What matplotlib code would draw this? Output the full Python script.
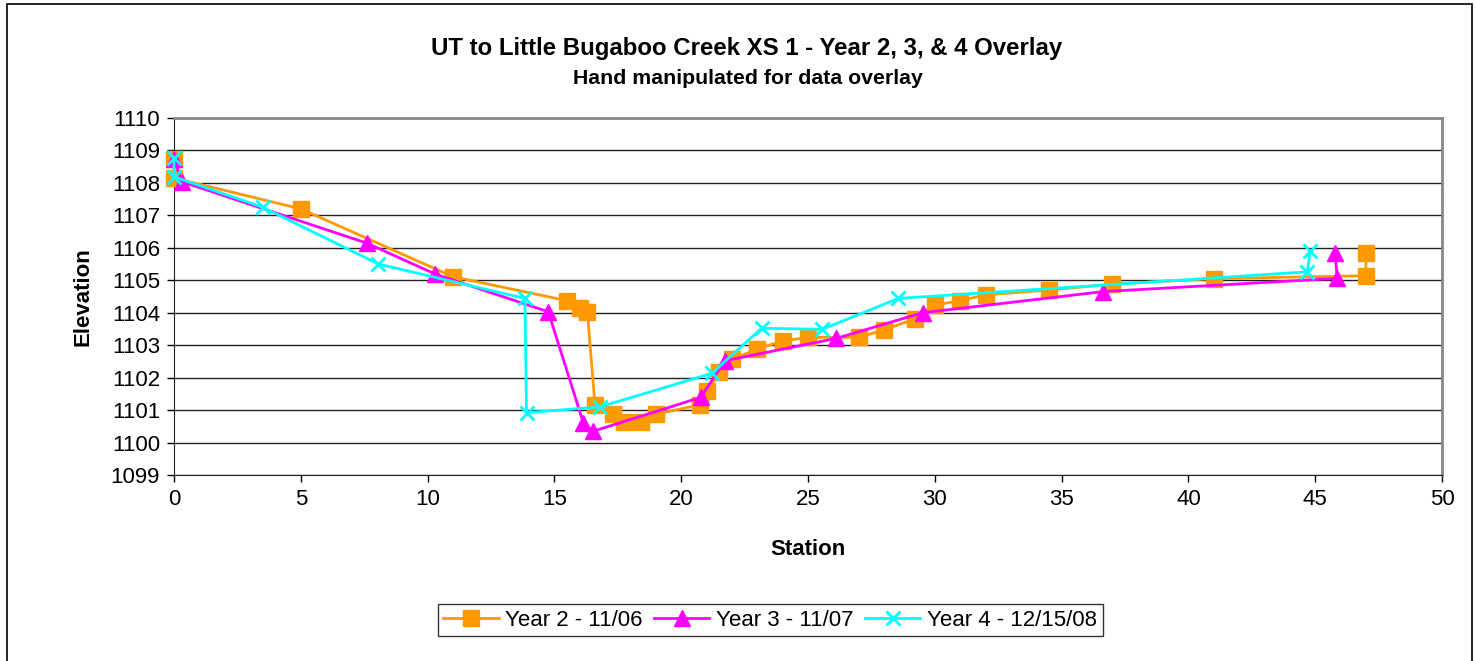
import matplotlib
matplotlib.use("Agg")
import matplotlib.pyplot as plt
from matplotlib.patches import Rectangle

plt.rcParams['font.family'] = ['Liberation Sans', 'DejaVu Sans']

# station / elevation
yr2_x = [0, 0, 5.0, 11.0, 15.5, 16.0, 16.3, 16.6, 17.3, 17.74, 18.4, 19.0, 20.74, 21.03,
         21.5, 22.0, 23.0, 24.0, 25.0, 27.0, 28.0, 29.2, 30.0, 31.0, 32.0, 34.5, 37.0,
         41.0, 47.0, 47.0]
yr2_y = [1108.75, 1108.15, 1107.2, 1105.11, 1104.37, 1104.14, 1104.03, 1101.16, 1100.88,
         1100.64, 1100.62, 1100.88, 1101.16, 1101.6, 1102.18, 1102.56, 1102.88, 1103.13,
         1103.24, 1103.24, 1103.47, 1103.81, 1104.24, 1104.37, 1104.55, 1104.7, 1104.88,
         1105.05, 1105.14, 1105.85]

yr3_x = [0, 0.3, 7.62, 10.3, 14.76, 16.14, 16.53, 20.77, 21.72, 26.12, 29.52, 36.63, 45.87, 45.78]
yr3_y = [1108.75, 1108.04, 1106.14, 1105.19, 1104.03, 1100.61, 1100.35, 1101.39, 1102.52,
         1103.21, 1104.0, 1104.65, 1105.06, 1105.83]

yr4_x = [0, 0, 3.5, 8.06, 13.84, 13.9, 16.8, 21.2, 23.17, 25.57, 28.56, 44.69, 44.8]
yr4_y = [1108.76, 1108.19, 1107.25, 1105.5, 1104.44, 1100.92, 1101.1, 1102.13, 1103.52,
         1103.49, 1104.44, 1105.26, 1105.9]

labels = ["Year 2 - 11/06", "Year 3 - 11/07", "Year 4 - 12/15/08"]
colors = ["#FF9900", "#FF00FF", "#00FFFF"]

W, H = 1476, 661
fig = plt.figure(figsize=(W / 100, H / 100), dpi=100)
ax = fig.add_axes([174 / W, 1 - 475 / H, (1442 - 174) / W, (475 - 118) / H])

ax.plot(yr2_x, yr2_y, color=colors[0], lw=2, marker='s', ms=11, label=labels[0],
        zorder=3, clip_on=False)
ax.plot(yr3_x, yr3_y, color=colors[1], lw=2, marker='^', ms=11, label=labels[1],
        zorder=4, clip_on=False)
ax.plot(yr4_x, yr4_y, color=colors[2], lw=2, marker='x', ms=10, mew=2, label=labels[2],
        zorder=5, clip_on=False)

ax.set_xlim(0, 50)
ax.set_ylim(1099, 1110)
ax.set_xticks(range(0, 51, 5))
ax.set_yticks(range(1099, 1111))
ax.yaxis.grid(True, color='#222222', lw=1.0)
ax.set_axisbelow(True)
ax.tick_params(labelsize=16, direction='out', length=5, width=1, colors='black', pad=5)

for side in ['top', 'right']:
    ax.spines[side].set_color('#888888')
    ax.spines[side].set_linewidth(2)
ax.spines['left'].set_color('#222222')
ax.spines['bottom'].set_color('#222222')

ax.set_xlabel("Station", fontsize=16, fontweight='bold')
ax.set_ylabel("Elevation", fontsize=16, fontweight='bold')
ax.xaxis.set_label_coords(0.5, (475 - 539) / (475 - 118))
ax.yaxis.set_label_coords((93 - 174) / (1442 - 174), 0.5)

fig.text(747 / W, 1 - 48 / H, "UT to Little Bugaboo Creek XS 1 - Year 2, 3, & 4 Overlay",
         ha='center', va='center', fontsize=17.3, fontweight='bold')
fig.text(748 / W, 1 - 78 / H, "Hand manipulated for data overlay",
         ha='center', va='center', fontsize=15.3, fontweight='bold')

leg = fig.legend(loc='center', bbox_to_anchor=(770 / W, 1 - 620 / H), ncol=3, fontsize=16,
                 frameon=True, fancybox=False, edgecolor='black', handlelength=2.5,
                 columnspacing=0.5, handletextpad=0.3, borderpad=0.25, borderaxespad=0)
leg.get_frame().set_linewidth(1)

# outer chart border
fig.patches.append(Rectangle((7 / W, -0.01), (1472 - 7) / W, 1 - 4 / H + 0.01,
                             transform=fig.transFigure, fill=False, edgecolor='black', lw=1.2))

fig.savefig("out.png", dpi=100)
